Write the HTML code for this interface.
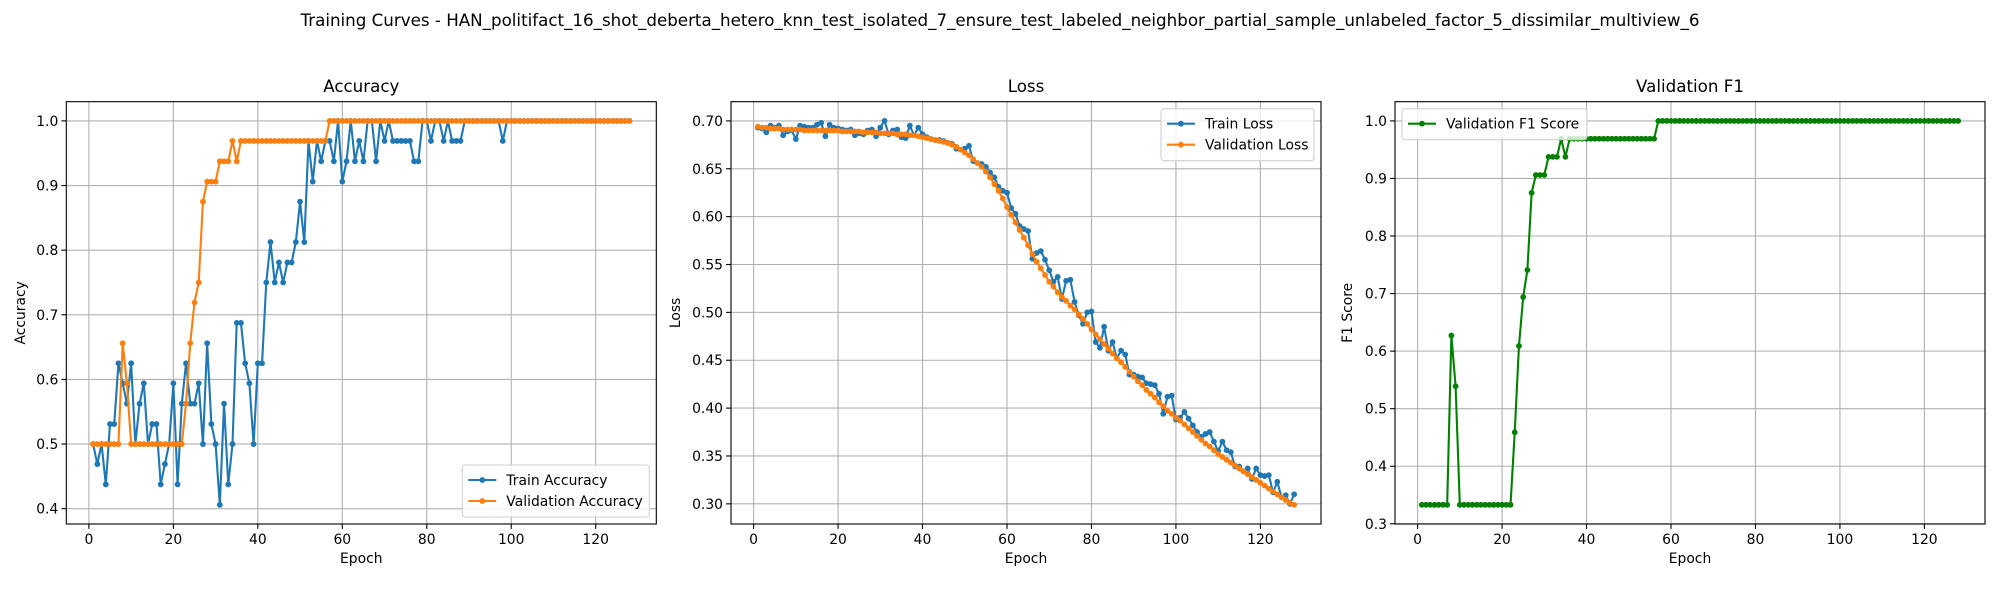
<!DOCTYPE html>
<html><head><meta charset="utf-8"><style>
html,body{margin:0;padding:0;background:#fff;}
svg{display:block;font-family:"DejaVu Sans","Liberation Sans",sans-serif;}
</style></head><body>
<svg id="fig" width="2000" height="600" viewBox="0 0 2000 600" xmlns="http://www.w3.org/2000/svg">
<text x="1000" y="26" font-size="16.7" text-anchor="middle" fill="#000">Training Curves - HAN_politifact_16_shot_deberta_hetero_knn_test_isolated_7_ensure_test_labeled_neighbor_partial_sample_unlabeled_factor_5_dissimilar_multiview_6</text>
</svg>
<script>
const epochs = Array.from({length:128},(_, i)=>i+1);
const trainAcc = [0.5,0.469,0.5,0.4375,0.531,0.531,0.625,0.594,0.5625,0.625,0.5,0.5625,0.594,0.5,0.531,0.531,0.4375,0.469,0.5,0.594,0.4375,0.5625,0.625,0.5625,0.5625,0.594,0.5,0.656,0.531,0.5,0.406,0.5625,0.4375,0.5,0.6875,0.6875,0.625,0.594,0.5,0.625,0.625,0.75,0.8125,0.75,0.781,0.75,0.781,0.781,0.8125,0.875,0.8125,0.969,0.906,0.969,0.9375,0.969,0.969,0.9375,1.0,0.906,0.9375,1.0,0.9375,0.969,0.9375,1.0,1.0,0.9375,1.0,0.969,1.0,0.969,0.969,0.969,0.969,0.969,0.9375,0.9375,1.0,1.0,0.969,1.0,1.0,0.969,1.0,0.969,0.969,0.969,1.0,1.0,1.0,1.0,1.0,1.0,1.0,1.0,1.0,0.969,1.0,1.0,1.0,1.0,1.0,1.0,1.0,1.0,1.0,1.0,1.0,1.0,1.0,1.0,1.0,1.0,1.0,1.0,1.0,1.0,1.0,1.0,1.0,1.0,1.0,1.0,1.0,1.0,1.0,1.0];
const valAcc = [0.5,0.5,0.5,0.5,0.5,0.5,0.5,0.656,0.594,0.5,0.5,0.5,0.5,0.5,0.5,0.5,0.5,0.5,0.5,0.5,0.5,0.5,0.5625,0.656,0.719,0.75,0.875,0.906,0.906,0.906,0.9375,0.9375,0.9375,0.969,0.9375,0.969,0.969,0.969,0.969,0.969,0.969,0.969,0.969,0.969,0.969,0.969,0.969,0.969,0.969,0.969,0.969,0.969,0.969,0.969,0.969,0.969,1,1,1,1,1,1,1,1,1,1,1,1,1,1,1,1,1,1,1,1,1,1,1,1,1,1,1,1,1,1,1,1,1,1,1,1,1,1,1,1,1,1,1,1,1,1,1,1,1,1,1,1,1,1,1,1,1,1,1,1,1,1,1,1,1,1,1,1,1,1,1,1];
const trainLoss = [0.693,0.692,0.688,0.695,0.693,0.695,0.685,0.689,0.690,0.681,0.695,0.694,0.693,0.693,0.696,0.698,0.684,0.696,0.693,0.692,0.691,0.690,0.691,0.685,0.687,0.686,0.690,0.691,0.684,0.693,0.700,0.686,0.690,0.691,0.683,0.682,0.695,0.685,0.693,0.686,0.683,0.681,0.680,0.680,0.679,0.677,0.676,0.671,0.670,0.671,0.674,0.658,0.656,0.655,0.652,0.646,0.641,0.631,0.627,0.625,0.609,0.603,0.590,0.587,0.585,0.556,0.562,0.564,0.555,0.544,0.532,0.537,0.514,0.533,0.534,0.511,0.497,0.488,0.500,0.501,0.469,0.463,0.485,0.460,0.469,0.452,0.460,0.456,0.435,0.435,0.433,0.432,0.426,0.425,0.424,0.415,0.394,0.412,0.413,0.388,0.390,0.396,0.389,0.382,0.375,0.370,0.373,0.375,0.365,0.355,0.365,0.356,0.354,0.339,0.339,0.334,0.337,0.326,0.337,0.330,0.329,0.330,0.312,0.323,0.307,0.309,0.300,0.310];
const valLoss = [0.694,0.693,0.693,0.692,0.692,0.692,0.691,0.691,0.691,0.691,0.691,0.690,0.690,0.690,0.690,0.690,0.690,0.690,0.690,0.690,0.689,0.689,0.689,0.689,0.689,0.688,0.688,0.688,0.688,0.687,0.687,0.687,0.687,0.686,0.686,0.686,0.685,0.685,0.684,0.683,0.682,0.681,0.680,0.679,0.678,0.677,0.675,0.673,0.670,0.667,0.664,0.660,0.656,0.652,0.647,0.641,0.634,0.627,0.619,0.610,0.602,0.594,0.586,0.578,0.570,0.561,0.553,0.546,0.539,0.532,0.527,0.521,0.516,0.512,0.507,0.503,0.498,0.493,0.488,0.482,0.477,0.472,0.467,0.462,0.457,0.452,0.448,0.443,0.438,0.433,0.428,0.424,0.419,0.415,0.411,0.406,0.402,0.397,0.394,0.390,0.387,0.383,0.379,0.375,0.371,0.367,0.363,0.360,0.356,0.352,0.349,0.346,0.343,0.340,0.337,0.334,0.331,0.328,0.325,0.322,0.319,0.316,0.313,0.310,0.307,0.304,0.301,0.299];
const valF1 = [0.333,0.333,0.333,0.333,0.333,0.333,0.333,0.627,0.539,0.333,0.333,0.333,0.333,0.333,0.333,0.333,0.333,0.333,0.333,0.333,0.333,0.333,0.459,0.609,0.694,0.741,0.875,0.906,0.906,0.906,0.9375,0.9375,0.9375,0.969,0.9375,0.969,0.969,0.969,0.969,0.969,0.969,0.969,0.969,0.969,0.969,0.969,0.969,0.969,0.969,0.969,0.969,0.969,0.969,0.969,0.969,0.969,1,1,1,1,1,1,1,1,1,1,1,1,1,1,1,1,1,1,1,1,1,1,1,1,1,1,1,1,1,1,1,1,1,1,1,1,1,1,1,1,1,1,1,1,1,1,1,1,1,1,1,1,1,1,1,1,1,1,1,1,1,1,1,1,1,1,1,1,1,1,1,1];
const xTicks = [0,20,40,60,80,100,120];
const accTicks = [0.4,0.5,0.6,0.7,0.8,0.9,1.0];
const lossTicks = [0.30,0.35,0.40,0.45,0.50,0.55,0.60,0.65,0.70];
const f1Ticks = [0.3,0.4,0.5,0.6,0.7,0.8,0.9,1.0];

const NS="http://www.w3.org/2000/svg";
const svg=document.getElementById('fig');
function mk(tag,attrs,parent){const e=document.createElementNS(NS,tag);for(const k in attrs)e.setAttribute(k,attrs[k]);(parent||svg).appendChild(e);return e;}
const TOP=101.7,BOT=524,W=590;

function panel(opts){
  const g=mk('g',{});
  
  
  const L=opts.left,R=L+W;
  const allv=[].concat(...opts.series.map(s=>s.data));
  let mn=Math.min(...allv),mx=Math.max(...allv);const m=(mx-mn)*0.05;const y0=mn-m,y1=mx+m;
  const x0=1-127*0.05,x1=128+127*0.05;
  const sx=v=>L+(v-x0)/(x1-x0)*W;
  const sy=v=>BOT-(v-y0)/(y1-y0)*(BOT-TOP);
  // grid
  xTicks.forEach(t=>{
    const gl=mk('line',{x1:sx(t),x2:sx(t),y1:TOP,y2:BOT,stroke:'#b0b0b0','stroke-width':1.1},g);
    
    
    mk('line',{x1:sx(t),x2:sx(t),y1:BOT,y2:BOT+4.9,stroke:'#000','stroke-width':1.1},g);
    const tl=mk('text',{x:sx(t),y:BOT+20,'font-size':13.9,'text-anchor':'middle',fill:'#000'},g);
    tl.textContent=t;
    
    
  });
  opts.ticks.forEach(t=>{
    const gl=mk('line',{x1:L,x2:R,y1:sy(t),y2:sy(t),stroke:'#b0b0b0','stroke-width':1.1},g);
    
    
    mk('line',{x1:L-4.9,x2:L,y1:sy(t),y2:sy(t),stroke:'#000','stroke-width':1.1},g);
    const tl=mk('text',{x:L-8,y:sy(t)+5,'font-size':13.9,'text-anchor':'end',fill:'#000'},g);
    tl.textContent=t.toFixed(opts.dec);
    
    
  });
  opts.series.forEach(s=>{
    const pts=s.data.map((v,i)=>sx(epochs[i]).toFixed(2)+','+sy(v).toFixed(2)).join(' ');
    const sg=mk('g',{},g);
    
    
    mk('polyline',{points:pts,fill:'none',stroke:s.color,'stroke-width':2.1,'stroke-linejoin':'round'},sg);
    s.data.forEach((v,i)=>{
      const c=mk('circle',{cx:sx(epochs[i]),cy:sy(v),r:2.9,fill:s.color},sg);
      
      
    });
  });
  const fr=mk('rect',{x:L,y:TOP,width:W,height:BOT-TOP,fill:'none',stroke:'#000','stroke-width':1.1},g);
  
  
  const ti=mk('text',{x:L+W/2,y:92,'font-size':16.7,'text-anchor':'middle',fill:'#000'},g);
  ti.textContent=opts.title;
  
  
  const xl=mk('text',{x:L+W/2,y:563,'font-size':13.9,'text-anchor':'middle',fill:'#000'},g);
  xl.textContent='Epoch';
  
  
  const yl=mk('text',{x:0,y:0,'font-size':13.9,'text-anchor':'middle',fill:'#000',transform:`translate(${opts.ylx},${(TOP+BOT)/2}) rotate(-90)`},g);
  yl.textContent=opts.ylabel;
  
  
  // legend
  const lg=mk('g',{},g);
  
  
  const lw=opts.legW,lh=10+opts.series.length*21;
  const lx=opts.legPos==='br'?R-7-lw:(opts.legPos==='tr'?R-7-lw:L+7);
  const ly=opts.legPos==='br'?BOT-7-lh:TOP+7;
  mk('rect',{x:lx,y:ly,width:lw,height:lh,rx:3,fill:'#fff','fill-opacity':0.8,stroke:'#d0d0d0','stroke-width':1.1},lg);
  opts.series.forEach((s,i)=>{
    const yy=ly+15+i*21;
    const le=mk('g',{},lg);
    
    
    mk('line',{x1:lx+6,x2:lx+34,y1:yy,y2:yy,stroke:s.color,'stroke-width':2.1},le);
    mk('circle',{cx:lx+20,cy:yy,r:2.9,fill:s.color},le);
    const t=mk('text',{x:lx+44,y:yy+5,'font-size':13.9,fill:'#000'},le);
    t.textContent=s.label;
  });
}
panel({name:'accuracy-panel',left:66.3,title:'Accuracy',ylabel:'Accuracy',ylx:25,ticks:accTicks,dec:1,legPos:'br',legW:187,
  series:[{name:'train-accuracy-line',label:'Train Accuracy',color:'#1f77b4',data:trainAcc},{name:'validation-accuracy-line',label:'Validation Accuracy',color:'#ff7f0e',data:valAcc}]});
panel({name:'loss-panel',left:731,title:'Loss',ylabel:'Loss',ylx:680,ticks:lossTicks,dec:2,legPos:'tr',legW:153,
  series:[{name:'train-loss-line',label:'Train Loss',color:'#1f77b4',data:trainLoss},{name:'validation-loss-line',label:'Validation Loss',color:'#ff7f0e',data:valLoss}]});
panel({name:'f1-panel',left:1395,title:'Validation F1',ylabel:'F1 Score',ylx:1352,ticks:f1Ticks,dec:1,legPos:'tl',legW:185,
  series:[{name:'validation-f1-line',label:'Validation F1 Score',color:'#008000',data:valF1}]});
</script>
</body></html>
